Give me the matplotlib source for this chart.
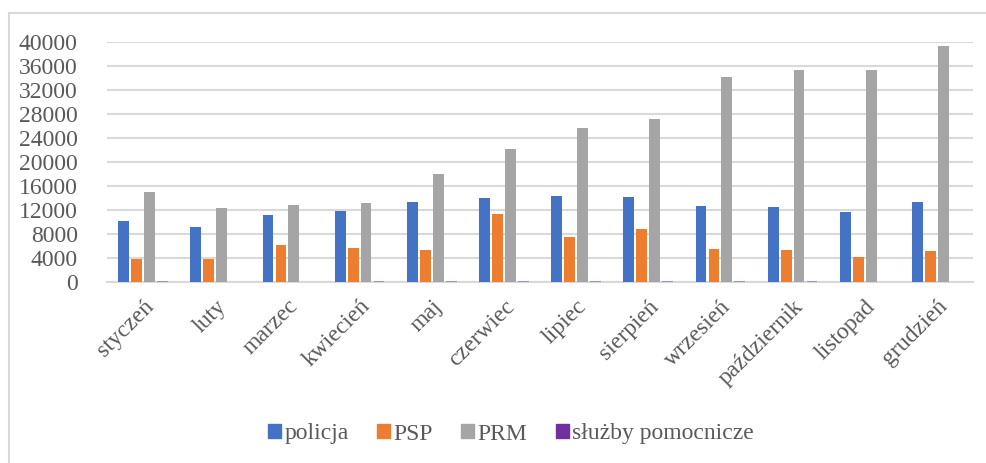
import numpy as np
import matplotlib.pyplot as plt
from matplotlib.lines import Line2D

months = ["styczeń", "luty", "marzec", "kwiecień", "maj", "czerwiec", "lipiec",
          "sierpień", "wrzesień", "październik", "listopad", "grudzień"]
policja = [10100, 9230, 11100, 11800, 13280, 13950, 14280, 14120, 12620, 12450, 11620, 13280]
psp = [3780, 3830, 6100, 5620, 5330, 11400, 7450, 8780, 5500, 5280, 4230, 5120]
prm = [15070, 12400, 12780, 13230, 18070, 22120, 25620, 27120, 34170, 35280, 35400, 39280]
sluzby = [220, 60, 60, 150, 220, 200, 200, 100, 110, 100, 40, 0]

series = [("policja", policja, "#4472C4"), ("PSP", psp, "#ED7D31"),
          ("PRM", prm, "#A5A5A5"), ("służby pomocnicze", sluzby, "#7030A0")]

plt.rcParams['font.family'] = ['Liberation Serif', 'DejaVu Serif']
text_col = "#595959"

fig = plt.figure(figsize=(9.87, 4.63), dpi=100)
ax = fig.add_axes([107 / 987, 1 - 282 / 463, 866 / 987, 240 / 463])

x = np.arange(len(months))
w = 0.15
offsets = [-0.27, -0.09, 0.09, 0.27]
for (name, vals, col), off in zip(series, offsets):
    # the tiny purple bars look faint in the original
    a = 0.45 if name.startswith("służby") else 1.0
    ax.bar(x + off, vals, w, color=col, alpha=a, label=name, zorder=3)

ax.set_xlim(-0.5, len(months) - 0.5)
ax.set_ylim(0, 40000)
ax.set_yticks(np.arange(0, 40001, 4000))
ax.grid(axis='y', color="#D9D9D9", linewidth=1.5, zorder=0)
for s in ["top", "right", "left"]:
    ax.spines[s].set_visible(False)
ax.spines["bottom"].set_color("#D9D9D9")
ax.spines["bottom"].set_linewidth(1.5)
ax.tick_params(axis='both', length=0, colors=text_col, labelsize=17)
ax.tick_params(axis='y', pad=21)
ax.set_xticks(x)
ax.set_xticklabels(months, rotation=45, ha='right', rotation_mode='anchor')
ax.tick_params(axis='x', pad=10)

handles = [plt.Rectangle((0, 0), 1, 1, color=c) for _, _, c in series]
fig.legend(handles, [n for n, _, _ in series], loc='center', bbox_to_anchor=(511 / 987, 1 - 434 / 463),
           ncol=4, frameon=False, fontsize=17, handlelength=0.55, handleheight=0.55,
           handletextpad=0.15, columnspacing=1.2, labelcolor=text_col)

# chart area border
fig.add_artist(Line2D([9 / 987, 1], [1 - 13 / 463, 1 - 13 / 463], color="#D9D9D9", lw=1.5))
fig.add_artist(Line2D([9 / 987, 9 / 987], [0, 1 - 13 / 463], color="#D9D9D9", lw=1.5))

fig.savefig("out.png", dpi=100)
